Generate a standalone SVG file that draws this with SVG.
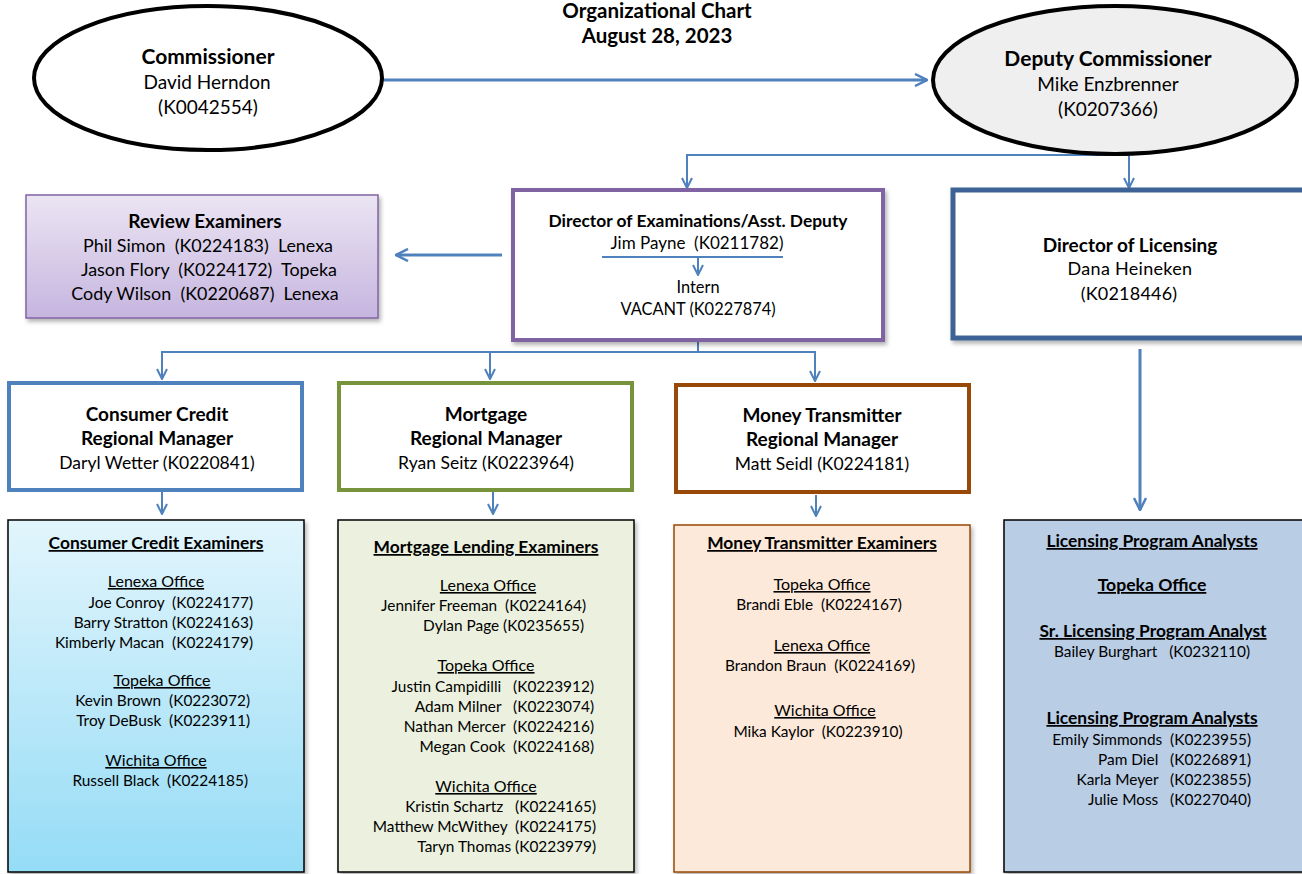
<svg xmlns="http://www.w3.org/2000/svg" width="1302" height="874" viewBox="0 0 1302 874">
<defs>
<style>
text{font-family:Lato,"Liberation Sans",sans-serif;font-size:15.4px;fill:#000;white-space:pre}
.b{font-weight:bold}
.u{text-decoration:underline}
.m{text-anchor:middle}
.e{text-anchor:end}
.h{font-size:21px;font-weight:bold}
.n{font-size:19px}
.mh{font-size:19px;font-weight:bold}
.mn{font-size:17.5px}
.rv{font-size:17.9px}
.xh{font-size:17.4px;font-weight:bold;text-decoration:underline}
.of{font-size:16px;text-decoration:underline}
.c{stroke:#4f81bd;stroke-width:2;fill:none}
.ct{stroke:#4f81bd;stroke-width:3;fill:none}
</style>
<marker id="ah" viewBox="0 0 12 12" refX="11" refY="6" markerWidth="12" markerHeight="12" markerUnits="userSpaceOnUse" orient="auto">
<polyline points="1,1 11,6 1,11" fill="none" stroke="#4f81bd" stroke-width="2"/>
</marker>
<marker id="ah2" viewBox="0 0 14 14" refX="13" refY="7" markerWidth="14" markerHeight="14" markerUnits="userSpaceOnUse" orient="auto">
<polyline points="1,1 13,7 1,13" fill="none" stroke="#4f81bd" stroke-width="2.5"/>
</marker>
<filter id="sh" x="-5%" y="-5%" width="112%" height="115%">
<feDropShadow dx="2" dy="3" stdDeviation="2" flood-color="#000" flood-opacity="0.3"/>
</filter>
<linearGradient id="gPurple" x1="0" y1="0" x2="0" y2="1"><stop offset="0" stop-color="#ebe5f3"/><stop offset="1" stop-color="#c6b5df"/></linearGradient>
<linearGradient id="gBlue" x1="0" y1="0" x2="0" y2="1"><stop offset="0" stop-color="#e2f5fc"/><stop offset="1" stop-color="#95dcf6"/></linearGradient>
</defs>

<g id="title">
<text class="b m" x="657" y="18" style="font-size:20.5px">Organizational Chart</text>
<text class="b m" x="657" y="43" style="font-size:20.5px">August 28, 2023</text>
</g>

<g id="connectors">
<line class="ct" x1="383" y1="80" x2="927" y2="80" marker-end="url(#ah2)"/>
<polyline class="c" points="1130,155 687,155 687,188" marker-end="url(#ah)"/>
<line class="c" x1="1129" y1="155" x2="1129" y2="188" marker-end="url(#ah)"/>
<line class="ct" x1="502" y1="255" x2="396" y2="255" marker-end="url(#ah2)"/>
<line class="ct" x1="1140" y1="349" x2="1140" y2="510" marker-end="url(#ah2)"/>
<polyline class="c" points="698,341 698,352 162,352 162,379" marker-end="url(#ah)"/>
<line class="c" x1="490" y1="352" x2="490" y2="379" marker-end="url(#ah)"/>
<polyline class="c" points="698,352 815,352 815,381" marker-end="url(#ah)"/>
<line class="c" x1="162" y1="492" x2="162" y2="514" marker-end="url(#ah)"/>
<line class="c" x1="493" y1="492" x2="493" y2="514" marker-end="url(#ah)"/>
<line class="c" x1="816" y1="495" x2="816" y2="516" marker-end="url(#ah)"/>
</g>

<g id="commissioner">
<ellipse cx="208" cy="78" rx="174" ry="72" fill="#fff" stroke="#000" stroke-width="4"/>
<text class="h m" x="208" y="64">Commissioner</text>
<text class="n m" x="207" y="89">David Herndon</text>
<text class="n m" x="208" y="114">(K0042554)</text>
</g>

<g id="deputy">
<ellipse cx="1115" cy="80" rx="182" ry="74" fill="#efefef" stroke="#000" stroke-width="4"/>
<text class="h m" x="1108" y="66">Deputy Commissioner</text>
<text class="n m" x="1108" y="91">Mike Enzbrenner</text>
<text class="n m" x="1108" y="116">(K0207366)</text>
</g>

<g id="review">
<rect x="26" y="195" width="352" height="123" fill="url(#gPurple)" stroke="#8064a2" stroke-width="1.5" filter="url(#sh)"/>
<text class="b m" x="205" y="228" style="font-size:19px">Review Examiners</text>
<text class="rv m" x="208" y="252">Phil Simon  (K0224183)  Lenexa</text>
<text class="rv m" x="209" y="276">Jason Flory  (K0224172)  Topeka</text>
<text class="rv m" x="205" y="300">Cody Wilson  (K0220687)  Lenexa</text>
</g>

<g id="director-exam">
<rect x="513" y="190" width="370" height="150" fill="#fff" stroke="#8064a2" stroke-width="4" filter="url(#sh)"/>
<text class="b m" x="698" y="227" style="font-size:17.4px">Director of Examinations/Asst. Deputy</text>
<text class="m" x="697" y="249" style="font-size:17px">Jim Payne  (K0211782)</text>
<line x1="602" y1="257" x2="783" y2="257" stroke="#4f81bd" stroke-width="2"/>
<line class="c" x1="698" y1="257" x2="698" y2="275" marker-end="url(#ah)"/>
<text class="m" x="698" y="293" style="font-size:16.4px">Intern</text>
<text class="m" x="698" y="315" style="font-size:16.4px">VACANT (K0227874)</text>
</g>

<g id="director-lic">
<rect x="953" y="190" width="360" height="148" fill="#fff" stroke="#3c6496" stroke-width="5" filter="url(#sh)"/>
<text class="mh m" x="1130" y="252">Director of Licensing</text>
<text class="n m" x="1130" y="275" style="font-size:18px;letter-spacing:0.3px">Dana Heineken</text>
<text class="n m" x="1129" y="300" style="font-size:18px;letter-spacing:0.2px">(K0218446)</text>
</g>

<g id="cc-manager">
<rect x="9" y="383" width="293" height="107" fill="#fff" stroke="#4f81bd" stroke-width="4"/>
<text class="mh m" x="157" y="421">Consumer Credit</text>
<text class="mh m" x="157" y="445">Regional Manager</text>
<text class="mn m" x="157" y="469">Daryl Wetter (K0220841)</text>
</g>

<g id="mort-manager">
<rect x="339" y="383" width="293" height="107" fill="#fff" stroke="#77933c" stroke-width="4"/>
<text class="mh m" x="486" y="421">Mortgage</text>
<text class="mh m" x="486" y="445">Regional Manager</text>
<text class="mn m" x="486" y="469">Ryan Seitz (K0223964)</text>
</g>

<g id="mt-manager">
<rect x="676" y="385" width="293" height="107" fill="#fff" stroke="#984807" stroke-width="4"/>
<text class="mh m" x="822" y="422">Money Transmitter</text>
<text class="mh m" x="822" y="446">Regional Manager</text>
<text class="mn m" x="822" y="470">Matt Seidl (K0224181)</text>
</g>

<g id="cc-examiners">
<rect x="8" y="520" width="296" height="352" fill="url(#gBlue)" stroke="#000" stroke-width="1.5" filter="url(#sh)"/>
<text class="xh m" x="156" y="549">Consumer Credit Examiners</text>
<text class="of m" x="156" y="587">Lenexa Office</text>
<text class="e" x="253" y="608">Joe Conroy  (K0224177)</text>
<text class="e" x="253" y="628">Barry Stratton (K0224163)</text>
<text class="e" x="253" y="648">Kimberly Macan  (K0224179)</text>
<text class="of m" x="162" y="686">Topeka Office</text>
<text class="e" x="250" y="706">Kevin Brown  (K0223072)</text>
<text class="e" x="250" y="726">Troy DeBusk  (K0223911)</text>
<text class="of m" x="156" y="766">Wichita Office</text>
<text class="e" x="248" y="786">Russell Black  (K0224185)</text>
</g>

<g id="mort-examiners">
<rect x="338" y="520" width="296" height="352" fill="#ebf1de" stroke="#000" stroke-width="1.5" filter="url(#sh)"/>
<text class="xh m" x="486" y="553">Mortgage Lending Examiners</text>
<text class="of m" x="488" y="591">Lenexa Office</text>
<text class="e" x="586" y="611">Jennifer Freeman  (K0224164)</text>
<text class="e" x="584" y="631">Dylan Page (K0235655)</text>
<text class="of m" x="486" y="671">Topeka Office</text>
<text class="e" x="594" y="692">Justin Campidilli   (K0223912)</text>
<text class="e" x="594" y="712">Adam Milner   (K0223074)</text>
<text class="e" x="594" y="732">Nathan Mercer  (K0224216)</text>
<text class="e" x="594" y="752">Megan Cook  (K0224168)</text>
<text class="of m" x="486" y="792">Wichita Office</text>
<text class="e" x="596" y="812">Kristin Schartz   (K0224165)</text>
<text class="e" x="596" y="832">Matthew McWithey  (K0224175)</text>
<text class="e" x="596" y="852">Taryn Thomas (K0223979)</text>
</g>

<g id="mt-examiners">
<rect x="674" y="525" width="296" height="347" fill="#fde9d9" stroke="#984807" stroke-width="1.5" filter="url(#sh)"/>
<text class="xh m" x="822" y="549">Money Transmitter Examiners</text>
<text class="of m" x="822" y="590">Topeka Office</text>
<text class="m" x="819" y="610">Brandi Eble  (K0224167)</text>
<text class="of m" x="822" y="651">Lenexa Office</text>
<text class="m" x="820" y="671">Brandon Braun  (K0224169)</text>
<text class="of m" x="825" y="716">Wichita Office</text>
<text class="m" x="818" y="737">Mika Kaylor  (K0223910)</text>
</g>

<g id="lic-analysts">
<rect x="1004" y="520" width="310" height="352" fill="#b9cde5" stroke="#000" stroke-width="1.5" filter="url(#sh)"/>
<text class="xh m" x="1152" y="547">Licensing Program Analysts</text>
<text class="xh m" x="1152" y="591" style="font-size:17.6px">Topeka Office</text>
<text class="xh m" x="1153" y="637">Sr. Licensing Program Analyst</text>
<text class="m" x="1152" y="657">Bailey Burghart   (K0232110)</text>
<text class="xh m" x="1152" y="724">Licensing Program Analysts</text>
<text class="e" x="1251" y="745">Emily Simmonds  (K0223955)</text>
<text class="e" x="1251" y="765">Pam Diel   (K0226891)</text>
<text class="e" x="1251" y="785">Karla Meyer   (K0223855)</text>
<text class="e" x="1251" y="805">Julie Moss   (K0227040)</text>
</g>
</svg>
